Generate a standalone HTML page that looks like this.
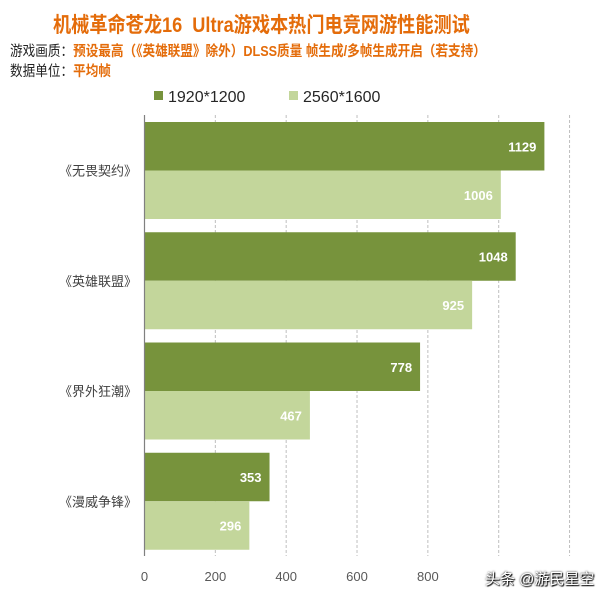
<!DOCTYPE html>
<html><head><meta charset="utf-8"><style>
body{margin:0;background:#fff;width:610px;height:599px;overflow:hidden;position:relative;font-family:"Liberation Sans","Noto Sans CJK SC",sans-serif}
.t{position:absolute;white-space:nowrap;transform-origin:left top}
</style></head><body>
<div class="t" style="left:53px;top:9px;font-size:21px;font-weight:bold;color:#e46c0a;transform:scaleX(0.865)">机械革命苍龙16&nbsp; Ultra游戏本热门电竞网游性能测试</div>
<div class="t" style="left:10px;top:40px;font-size:14.5px;color:#222;transform:scaleX(0.87)">游戏画质：<span style="color:#e46c0a;font-weight:bold">预设最高（《英雄联盟》除外）DLSS质量 帧生成/多帧生成开启（若支持）</span></div>
<div class="t" style="left:10px;top:60px;font-size:14.5px;color:#222;transform:scaleX(0.87)">数据单位：<span style="color:#e46c0a;font-weight:bold">平均帧</span></div>
<svg id="c" width="610" height="599" style="position:absolute;left:0;top:0"></svg>
<div class="t" style="left:485px;top:568px;font-size:15px;color:#fff;text-shadow:0 0 2px #000,1px 1px 1px #000">头条 @游民星空</div>
<script>
const categories=["《无畏契约》","《英雄联盟》","《界外狂潮》","《漫威争锋》"];
const series1=[1129,1048,778,353];
const series2=[1006,925,467,296];
const seriesNames=["1920*1200","2560*1600"];
const ticks=[0,200,400,600,800,1000,1200];
const tickLabels=["0","200","400","600","800","",""];
const svg=document.getElementById('c');const NS='http://www.w3.org/2000/svg';
function mk(t,a,p){const e=document.createElementNS(NS,t);for(const k in a)e.setAttribute(k,a[k]);(p||svg).appendChild(e);return e;}
const x0=144.5,k=0.3542,yTop=115,yBot=556,band=(yBot-yTop)/categories.length,bh=48.5;
const X=v=>x0+v*k;
const colors=["#77933c","#c3d69b"];
ticks.forEach((t,i)=>{
 if(t>0){const g=mk('line',{x1:X(t),x2:X(t),y1:yTop,y2:yBot,stroke:'#bfbfbf','stroke-dasharray':'3,2'});
 
 }
 if(tickLabels[i]){const l=mk('text',{x:X(t),y:581,'text-anchor':'middle','font-size':13,fill:'#595959','font-family':'Liberation Sans,sans-serif'});l.textContent=tickLabels[i];
 
 }
});
categories.forEach((c,i)=>{
 const y=yTop+band*i+7;
 [series1[i],series2[i]].forEach((v,j)=>{
  const r=mk('rect',{x:x0,y:y+j*bh,width:X(v)-x0,height:bh,fill:colors[j]});
  
  
  const tx=mk('text',{x:X(v)-8,y:y+j*bh+bh/2+5,'text-anchor':'end','font-size':13,'font-weight':'bold',fill:'#fff','font-family':'Liberation Sans,sans-serif'});tx.textContent=v;
  
  
 });
 const l=mk('text',{x:137,y:y+bh+5,'text-anchor':'end','font-size':13,fill:'#404040','font-family':'Liberation Sans,Noto Sans CJK SC,sans-serif'});l.textContent=c;
 
 
});
const ax=mk('line',{x1:x0,x2:x0,y1:yTop,y2:yBot,stroke:'#808080','stroke-width':1.2});


[[154,168],[289,303]].forEach((p,j)=>{
 const r=mk('rect',{x:p[0],y:91,width:9,height:9,fill:colors[j]});
 
 
 const t=mk('text',{x:p[1],y:102,'font-size':16,fill:'#262626','font-family':'Liberation Sans,sans-serif'});t.textContent=seriesNames[j];
 
 
});
</script>
</body></html>
